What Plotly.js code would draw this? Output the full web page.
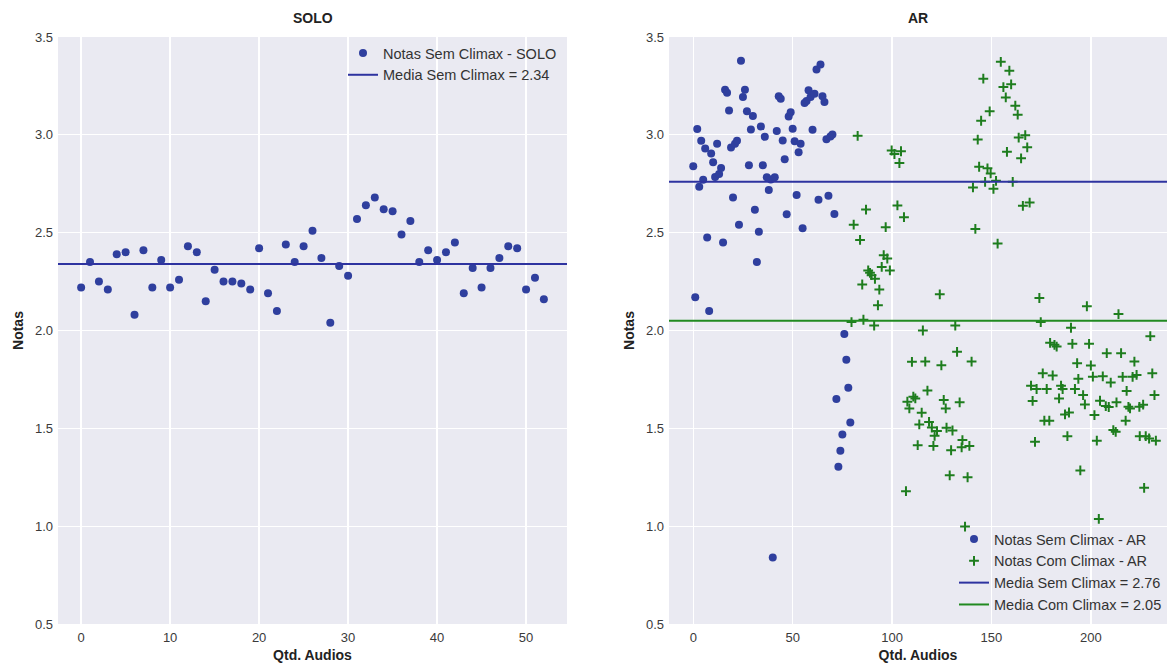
<!DOCTYPE html>
<html>
<head>
<meta charset="utf-8">
<script src="https://cdn.plot.ly/plotly-3.0.1.min.js"></script>
<style>
  html, body { margin: 0; padding: 0; background: #ffffff; }
  #chart { width: 1167px; height: 664px; }
</style>
</head>
<body>
<div id="chart"></div>
<script>
// ---- SOLO: grades without climax, one per audio (index 0..52)
const soloNotas = [
  2.22, 2.35, 2.25, 2.21, 2.39, 2.40, 2.08, 2.41, 2.22, 2.36,
  2.22, 2.26, 2.43, 2.40, 2.15, 2.31, 2.25, 2.25, 2.24, 2.21,
  2.42, 2.19, 2.10, 2.44, 2.35, 2.43, 2.51, 2.37, 2.04, 2.33,
  2.28, 2.57, 2.64, 2.68, 2.62, 2.61, 2.49, 2.56, 2.35, 2.41,
  2.36, 2.40, 2.45, 2.19, 2.32, 2.22, 2.32, 2.37, 2.43, 2.42,
  2.21, 2.27, 2.16
];
const soloMedia = 2.34;

// ---- AR: grades without climax (audio index 0..79)
const arSemNotas = [
  2.84, 2.17, 3.03, 2.735, 2.97, 2.77, 2.93, 2.475, 2.10, 2.905,
  2.86, 2.785, 2.955, 2.80, 2.83, 2.45, 3.23, 3.215, 3.125, 2.935,
  2.68, 2.955, 2.97, 2.54, 3.378, 3.193, 3.23, 3.12, 2.845, 3.027,
  3.096, 2.617, 2.35, 2.505, 3.043, 2.844, 2.99, 2.783, 2.718, 2.772,
  0.84, 2.783, 3.02, 3.197, 3.185, 2.971, 2.875, 2.594, 3.094, 3.116,
  3.031, 2.967, 2.692, 2.911, 2.954, 2.523, 3.163, 3.173, 3.228, 3.193,
  3.026, 3.21, 3.334, 2.668, 3.359, 3.197, 3.168, 2.978, 2.689, 2.991,
  3.002, 2.596, 1.65, 1.304, 1.385, 1.468, 1.982, 1.85, 1.708, 1.53
];
const arSemMedia = 2.76;

// ---- AR: grades with climax (audio position, grade)
const arComAudio = [
  79.6, 80.7, 82.7, 83.9, 85.0, 85.6, 86.9, 88.0, 88.9, 89.7,
  91.0, 91.4, 92.9, 93.6, 94.8, 95.8, 96.8, 97.6, 98.9, 99.8,
  101.2, 102.7, 103.7, 104.5, 106.0, 107.0, 107.7, 108.7, 110.0, 110.7,
  111.7, 112.9, 113.7, 114.9, 115.5, 116.7, 117.8, 118.6, 120.0, 120.8,
  121.4, 122.6, 124.0, 124.8, 126.0, 127.0, 127.4, 129.0, 129.7, 130.4,
  131.8, 132.7, 134.0, 135.0, 135.4, 136.7, 138.0, 138.9, 140.0, 140.7,
  141.9, 143.1, 143.8, 144.8, 145.9, 146.8, 148.0, 149.1, 149.6, 151.0,
  152.3, 153.1, 154.7, 156.0, 157.2, 157.8, 159.0, 159.9, 160.7, 162.0,
  163.2, 163.7, 164.9, 165.8, 167.0, 168.0, 169.2, 169.9, 170.7, 171.9,
  172.7, 174.1, 174.8, 175.8, 176.6, 177.8, 179.1, 179.5, 180.8, 181.7,
  182.8, 184.0, 185.0, 185.8, 187.0, 188.2, 189.0, 190.0, 190.7, 192.0,
  193.1, 193.7, 194.7, 196.1, 197.0, 198.0, 199.1, 200.0, 201.0, 201.8,
  203.0, 204.0, 204.6, 206.0, 207.5, 208.0, 209.0, 210.0, 211.3, 212.5,
  212.9, 213.9, 215.2, 216.0, 217.5, 218.0, 218.9, 219.7, 221.0, 221.9,
  223.0, 224.4, 224.6, 226.3, 226.8, 227.6, 229.3, 229.9, 230.9, 232.0,
  232.7
];
const arComNotas = [
  2.043, 2.541, 2.995, 2.463, 2.235, 2.055, 2.618, 2.307, 2.295, 2.283,
  2.025, 2.264, 2.129, 2.209, 2.325, 2.385, 2.528, 2.368, 2.307, 2.92,
  2.902, 2.639, 2.856, 2.916, 2.579, 1.179, 1.636, 1.602, 1.84, 1.662,
  1.653, 1.414, 1.52, 1.58, 2.0, 1.841, 1.693, 1.533, 1.504, 1.41,
  1.462, 1.486, 2.185, 1.822, 1.645, 1.602, 1.503, 1.26, 1.388, 1.489,
  2.025, 1.891, 1.633, 1.403, 1.44, 0.998, 1.25, 1.41, 1.841, 2.731,
  2.519, 2.976, 2.837, 3.072, 3.287, 2.76, 2.829, 3.12, 2.803, 2.724,
  2.765, 2.444, 3.373, 3.244, 3.191, 2.913, 3.328, 3.258, 2.76, 3.149,
  3.103, 2.986, 2.88, 2.637, 2.998, 2.936, 2.654, 1.718, 1.64, 1.431,
  1.701, 2.166, 2.043, 1.781, 1.539, 1.701, 1.539, 1.937, 1.77, 1.927,
  1.918, 1.653, 1.718, 1.701, 1.571, 1.46, 1.581, 2.014, 1.932, 1.701,
  1.833, 1.753, 1.285, 1.67, 1.622, 2.124, 1.932, 1.821, 1.764, 1.568,
  1.437, 1.037, 1.641, 1.766, 1.614, 1.884, 1.609, 1.734, 1.491, 1.482,
  1.633, 2.084, 1.884, 1.763, 1.539, 1.691, 1.61, 1.602, 1.763, 1.841,
  1.773, 1.61, 1.46, 1.621, 1.196, 1.46, 1.448, 1.971, 1.781, 1.67,
  1.437
];
const arComMedia = 2.05;

// ---- axis ranges
const soloRange = [-2.6, 54.6];
const arRange = [-12.2, 238.3];
const notaRange = [0.5, 3.5];

// ---- styling
const FONT = 'Liberation Sans, Arial, Helvetica, sans-serif';
const BLUE_DOT = '#2f3f9e';
const BLUE_LINE = '#2e33a0';
const GREEN_MARK = '#1e7d1e';
const GREEN_LINE = '#218a21';
const W = 1167, H = 664;
const M = { l: 0, r: 0, t: 37, b: 40 };
const plotH = H - M.t - M.b;
// paper-y for a pixel row measured from the top of the figure
const py = px => (H - M.b - px) / plotH;

const idx = arr => arr.map((_, i) => i);

const traces = [
  {
    x: idx(soloNotas), y: soloNotas, xaxis: 'x', yaxis: 'y',
    type: 'scatter', mode: 'markers', name: 'Notas Sem Climax - SOLO',
    marker: { color: BLUE_DOT, size: 8, line: { width: 0 } },
    legend: 'legend'
  },
  {
    x: soloRange, y: [soloMedia, soloMedia], xaxis: 'x', yaxis: 'y',
    type: 'scatter', mode: 'lines', name: 'Media Sem Climax = ' + soloMedia.toFixed(2),
    line: { color: BLUE_LINE, width: 2 },
    legend: 'legend'
  },
  {
    x: idx(arSemNotas), y: arSemNotas, xaxis: 'x2', yaxis: 'y2',
    type: 'scatter', mode: 'markers', name: 'Notas Sem Climax - AR',
    marker: { color: BLUE_DOT, size: 8, line: { width: 0 } },
    legend: 'legend2'
  },
  {
    x: arComAudio, y: arComNotas, xaxis: 'x2', yaxis: 'y2',
    type: 'scatter', mode: 'markers', name: 'Notas Com Climax - AR',
    marker: { symbol: 'cross-thin', color: GREEN_MARK, size: 7,
              line: { color: GREEN_MARK, width: 2 } },
    legend: 'legend2'
  },
  {
    x: arRange, y: [arSemMedia, arSemMedia], xaxis: 'x2', yaxis: 'y2',
    type: 'scatter', mode: 'lines', name: 'Media Sem Climax = ' + arSemMedia.toFixed(2),
    line: { color: BLUE_LINE, width: 2 },
    legend: 'legend2'
  },
  {
    x: arRange, y: [arComMedia, arComMedia], xaxis: 'x2', yaxis: 'y2',
    type: 'scatter', mode: 'lines', name: 'Media Com Climax = ' + arComMedia.toFixed(2),
    line: { color: GREEN_LINE, width: 2 },
    legend: 'legend2'
  }
];

const tickFont = { family: FONT, size: 13, color: '#3a3a3a' };
const titleFont = { family: FONT, size: 14, color: '#222', weight: 'bold' };
const legendFont = { family: FONT, size: 14.5, color: '#333' };

function xAxis(domain, range, dtick, anchor) {
  return {
    domain: domain, range: range, dtick: dtick, anchor: anchor,
    showgrid: true, gridcolor: '#ffffff', gridwidth: 1.3,
    zeroline: false, showline: false, ticks: '',
    tickfont: tickFont, automargin: false, ticklabelstandoff: 4,
    title: { text: 'Qtd. Audios', font: titleFont, standoff: 6 }
  };
}
function yAxis(anchor) {
  return {
    domain: [0, 1], range: notaRange, dtick: 0.5, tickformat: '.1f', anchor: anchor,
    showgrid: true, gridcolor: '#ffffff', gridwidth: 1.3,
    zeroline: false, showline: false, ticks: '',
    tickfont: tickFont, automargin: false, ticklabelstandoff: 4,
    title: { text: 'Notas', font: titleFont, standoff: 8 }
  };
}

const layout = {
  width: W, height: H,
  paper_bgcolor: '#ffffff', plot_bgcolor: '#eaeaf2',
  margin: { l: M.l, r: M.r, t: M.t, b: M.b, pad: 0 },
  font: { family: FONT, size: 13, color: '#333' },
  showlegend: true,
  xaxis: xAxis([58 / W, 567 / W], soloRange, 10, 'y'),
  yaxis: yAxis('x'),
  xaxis2: xAxis([669 / W, 1], arRange, 50, 'y2'),
  yaxis2: yAxis('x2'),
  legend: {
    x: 562 / W, xanchor: 'right', y: py(37), yanchor: 'top',
    bgcolor: 'rgba(0,0,0,0)', borderwidth: 0,
    font: legendFont, tracegroupgap: 0, itemwidth: 30
  },
  legend2: {
    x: 1, xanchor: 'right', y: py(621), yanchor: 'bottom',
    bgcolor: 'rgba(0,0,0,0)', borderwidth: 0,
    font: legendFont, tracegroupgap: 0, itemwidth: 30
  },
  annotations: [
    { text: 'SOLO', xref: 'x domain', yref: 'paper', x: 0.5, y: py(18),
      xanchor: 'center', yanchor: 'middle', showarrow: false, font: titleFont },
    { text: 'AR', xref: 'x2 domain', yref: 'paper', x: 0.5, y: py(18),
      xanchor: 'center', yanchor: 'middle', showarrow: false, font: titleFont }
  ]
};

Plotly.newPlot('chart', traces, layout, { displayModeBar: false, staticPlot: true });
</script>
</body>
</html>
